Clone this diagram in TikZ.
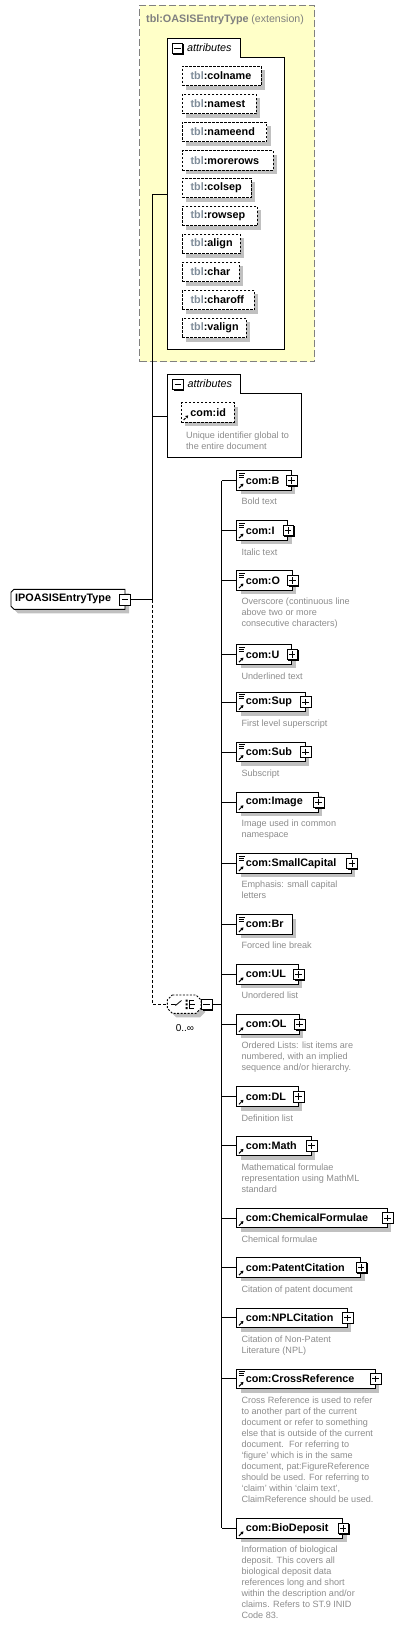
\documentclass[tikz,border=0pt]{standalone}
\usepackage{fontspec}
\setmainfont{Liberation Sans}
\usetikzlibrary{shadows,arrows.meta}
\definecolor{yel}{HTML}{FFFFC8}
\definecolor{shd}{HTML}{C0C0C0}
\definecolor{dgray}{HTML}{8C8C8C}
\definecolor{tblc}{HTML}{7F8C99}
\definecolor{bordc}{HTML}{808080}
\pgfdeclarelayer{bg}
\pgfsetlayers{bg,main}
\newcommand\labf{\fontsize{10.8}{13}\selectfont\bfseries}
\tikzset{
 x=1pt, y=-1pt,
 lab/.style={font=\labf},
 shadowed/.style={drop shadow={shadow xshift=4pt, shadow yshift=-4pt, fill=shd, opacity=1}},
 box/.style={draw, fill=white, line width=0.9pt, minimum height=19.6pt, inner ysep=0pt, shadowed},
 childbox/.style={box, anchor=west, inner xsep=9pt, align=left, lab},
 attrbox/.style={box, anchor=west, inner xsep=8.5pt, align=left, lab, dash pattern=on 2.5pt off 1.5pt},
 arrowpp/.style={path picture={\draw[line width=1pt,-{Triangle[length=2.6pt,width=3.2pt]}] ([xshift=2.2pt,yshift=2.2pt]path picture bounding box.south west) -- ++(4.5,-4.5);}},
 mixedpp/.style={path picture={
   \draw[line width=0.6pt] ([xshift=2pt,yshift=-2.3pt]path picture bounding box.north west) -- ++(6,0) ++(-6,2) -- ++(5,0) ++(-5,2) -- ++(5,0);
   \draw[line width=1pt,-{Triangle[length=2.6pt,width=3.2pt]}] ([xshift=2.2pt,yshift=2.2pt]path picture bounding box.south west) -- ++(4.5,-4.5);}},
 pmbox/.style={draw, fill=white, line width=0.7pt, minimum size=10.5pt, inner sep=0pt, drop shadow={shadow xshift=1.2pt, shadow yshift=-1.2pt, fill=black, opacity=1}},
 plus/.style={pmbox, path picture={\draw[line width=0.8pt] ([xshift=2pt]path picture bounding box.west) -- ([xshift=-2pt]path picture bounding box.east) ([yshift=-2pt]path picture bounding box.north) -- ([yshift=2pt]path picture bounding box.south);}},
 minus/.style={pmbox, path picture={\draw[line width=0.8pt] ([xshift=2pt]path picture bounding box.west) -- ([xshift=-2pt]path picture bounding box.east);}},
 desc/.style={anchor=north west, inner sep=0pt, align=left, font=\fontsize{9.1}{11}\selectfont, text=dgray},
 conn/.style={line width=1pt},
 dconn/.style={line width=1pt, dash pattern=on 3pt off 2pt},
 cont/.style={line width=0.9pt, fill=white},
 tabtext/.style={anchor=west, inner sep=0pt, font=\fontsize{10.8}{13}\selectfont\itshape}
}
\newcommand\mkchild[6]{%
 \pgfmathsetmacro\tw{#3-236.3-18}%
 \node[childbox,#5,text width=\tw pt] (#1) at (236.3,#2) {#4};
 \draw[conn] (#1.west) -- (#1.west -| bus);
 \node[desc] (#1d) at (241.3,#2+17.7) {#6};
}
\newcommand\pl[1]{\node[plus] (#1p) at (#1.east) {};}
\newcommand\mkattr[4]{%
 \pgfmathsetmacro\tw{#3-181.7-17}%
 \node[attrbox,text width=\tw pt] (#1) at (181.7,#2) {{\color{tblc}tbl}:#4};
}
\begin{document}
\begin{tikzpicture}
\useasboundingbox (0,0) rectangle (415,1627);
% extension box
\node[draw=bordc, dash pattern=on 7pt off 3pt, fill=yel, line width=0.9pt, minimum width=175pt, minimum height=356.3pt, anchor=north west, inner sep=0pt] (ext) at (139.3,5) {};
\node[anchor=west, inner sep=0pt, text=bordc] (exttitle) at (146,19.3) {{\labf tbl:OASISEntryType} {\fontsize{10.6}{12}\selectfont(extension)}};
% attributes container 1
\node[inner sep=0pt, minimum width=117pt, minimum height=311pt, anchor=north west] (attrs1) at (167.3,38.3) {};
\draw[cont] (167.3,349.3) |- (240,38.3) |- (284.3,57.3) |- (167.3,349.3) -- cycle;
\node[minus] (a1m) at (177.5,48.3) {};
\node[tabtext] (a1t) at (187,47.8) {attributes};
\mkattr{colname}{76}{260.7}{colname}
\mkattr{namest}{104}{256}{namest}
\mkattr{nameend}{132}{266.3}{nameend}
\mkattr{morerows}{160.3}{272.7}{morerows}
\mkattr{colsep}{188}{250.7}{colsep}
\mkattr{rowsep}{216}{257}{rowsep}
\mkattr{align}{244}{240}{align}
\mkattr{char}{272}{239}{char}
\mkattr{charoff}{300}{254}{charoff}
\mkattr{valign}{328}{246}{valign}
% attributes container 2
\node[inner sep=0pt, minimum width=134.4pt, minimum height=83pt, anchor=north west] (attrs2) at (167.3,374.3) {};
\draw[cont] (167.3,457.3) |- (240.7,374.3) |- (301.7,393.3) |- (167.3,457.3) -- cycle;
\node[minus] (a2m) at (177.8,384.5) {};
\node[tabtext] (a2t) at (187.3,383.8) {attributes};
\node[attrbox, arrowpp, inner xsep=9pt, text width=35pt] (cid) at (181,412.3) {com:id};
\node[desc] (cidd) at (186,431.4) {Unique identifier global to\\the entire document};
% main node
\node[lab, anchor=west, inner xsep=4pt, inner ysep=0pt, minimum height=20pt, text width=106pt, align=left] (main) at (11,599.3) {IPOASISEntryType};
\begin{pgfonlayer}{bg}
 \fill[shd] (18,593.3) -- (129,593.3) -- (129,613.3) -- (18,613.3) -- (15,610.3) -- (15,596.3) -- cycle;
 \draw[line width=0.9pt, fill=white] (14,589.3) -- (125,589.3) -- (125,609.3) -- (14,609.3) -- (11,606.3) -- (11,592.3) -- cycle;
\end{pgfonlayer}
\node[minus] (mainpm) at (125,599.8) {};
\coordinate (j) at (152.3,599.8);
\draw[conn] (mainpm.east) -- (j);
\draw[conn] (attrs1.west) -| (j);
\draw[conn] (attrs2.west) -- (attrs2.west -| j);
% choice
\node[inner sep=0pt, minimum width=33.7pt, minimum height=18.3pt] (choice) at (184.2,1004.2) {};
\fill[shd] (176.3,999) -- (200,999) -- (205,1004) -- (205,1012.3) -- (200,1017.3) -- (176.3,1017.3) -- (171.3,1012.3) -- (171.3,1004) -- cycle;
\draw[line width=0.9pt, fill=white, dash pattern=on 2pt off 1.5pt] (172.3,995) -- (196,995) -- (201,1000) -- (201,1008.3) -- (196,1013.3) -- (172.3,1013.3) -- (167.3,1008.3) -- (167.3,1000) -- cycle;
\draw[line width=0.8pt] (171,1004.5) -- (175.5,1004.5) (175.5,1005.5) -- (181.5,1000.5);
\fill (185.5,999.5) rectangle (187.5,1001.5) (185.5,1003.3) rectangle (187.5,1005.3) (185.5,1007) rectangle (187.5,1009);
\draw[line width=0.8pt] (189.5,999.5) -- (189.5,1009) (189.5,1000.5) -- (194,1000.5) (189.5,1004.3) -- (194.5,1004.3) (189.5,1008) -- (194,1008);
\node[minus] (choicepm) at (206.7,1004.5) {};
\node[inner sep=0pt, font=\fontsize{10}{12}\selectfont] (mult) at (185,1028.3) {0..∞};
\draw[dconn] (j) |- (choice.west);
% children
\coordinate (bus) at (221.7,0);
\mkchild{cB}{480.5}{290.7}{com:B}{mixedpp}{Bold text}\pl{cB}
\mkchild{cI}{530.5}{287.3}{com:I}{mixedpp}{Italic text}\pl{cI}
\mkchild{cO}{580.4}{291.7}{com:O}{mixedpp}{Overscore (continuous line\\above two or more\\consecutive characters)}\pl{cO}
\mkchild{cU}{654.5}{291.3}{com:U}{mixedpp}{Underlined text}\pl{cU}
\mkchild{cSup}{702}{304.7}{com:Sup}{mixedpp}{First level superscript}\pl{cSup}
\mkchild{cSub}{752}{304.7}{com:Sub}{mixedpp}{Subscript}\pl{cSub}
\mkchild{cImage}{802.2}{317.7}{com:Image}{arrowpp}{Image used in common\\namespace}\pl{cImage}
\mkchild{cSC}{863.3}{351}{com:SmallCapital}{mixedpp}{Emphasis: small capital\\letters}\pl{cSC}
\mkchild{cBr}{924.3}{291.7}{com:Br}{mixedpp}{Forced line break}
\mkchild{cUL}{974.3}{297.7}{com:UL}{arrowpp}{Unordered list}\pl{cUL}
\mkchild{cOL}{1024.2}{298.7}{com:OL}{arrowpp}{Ordered Lists: list items are\\numbered, with an implied\\sequence and/or hierarchy.}\pl{cOL}
\mkchild{cDL}{1096.7}{297.7}{com:DL}{arrowpp}{Definition list}\pl{cDL}
\mkchild{cMath}{1145.8}{310.7}{com:Math}{arrowpp}{Mathematical formulae\\representation using MathML\\standard}\pl{cMath}
\mkchild{cChem}{1218}{386.7}{com:ChemicalFormulae}{arrowpp}{Chemical formulae}\pl{cChem}
\mkchild{cPat}{1267.5}{360.3}{com:PatentCitation}{arrowpp}{Citation of patent document}\pl{cPat}
\mkchild{cNPL}{1317.8}{346.7}{com:NPLCitation}{arrowpp}{Citation of Non-Patent\\Literature (NPL)}\pl{cNPL}
\mkchild{cCross}{1378.8}{374.7}{com:CrossReference}{mixedpp}{Cross Reference is used to refer\\to another part of the current\\document or refer to something\\else that is outside of the current\\document.\ \ For referring to\\‘figure’ which is in the same\\document, pat:FigureReference\\should be used. For referring to\\‘claim’ within ‘claim text’,\\ClaimReference should be used.}\pl{cCross}
\mkchild{cBio}{1528.3}{342.3}{com:BioDeposit}{arrowpp}{Information of biological\\deposit. This covers all\\biological deposit data\\references long and short\\within the description and/or\\claims. Refers to ST.9 INID\\Code 83.}\pl{cBio}
\draw[conn] (cB.west -| bus) -- (cBio.west -| bus);
\draw[conn] (choicepm.east) -- (choicepm.east -| bus);
\end{tikzpicture}
\end{document}
